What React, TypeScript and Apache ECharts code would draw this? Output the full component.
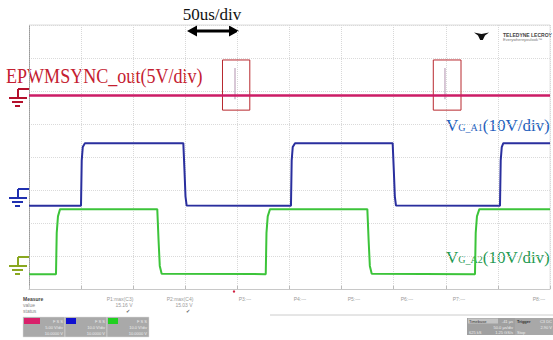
import React, { useEffect, useRef } from "react";
import * as echarts from "echarts";

// time in microseconds (50 us/div, 10 divisions); level in vertical divisions (8 divisions)
const timeRange = [0, 500];
const divRange = [0, 8];

// EPWMSYNC_out trace (pink)
const syncTrace: [number, number][] = [
  [0, 5.86], [197.7, 5.86], [399.2, 5.86], [500, 5.86],
];
// sync pulses (grey spikes)
const spikeTimes = [197.7, 399.2];
const spikeBottom = 5.75;
const spikeTop = 6.7;
// highlight boxes [t0, t1, yLow, yHigh]
const boxes: [number, number, number, number][] = [
  [185.7, 211.9, 5.42, 6.94],
  [388.0, 414.6, 5.42, 6.94],
];

// VG_A1 (blue)
const gateA1: [number, number][] = [
  [0, 2.52], [49.9, 2.52], [50.6, 3.9], [51.6, 4.3], [53.7, 4.42],
  [148.1, 4.42], [149.2, 3.6], [150.2, 2.8], [151.3, 2.53],
  [251.4, 2.52], [252.1, 3.9], [253.1, 4.3], [255.3, 4.42],
  [349.0, 4.42], [350.1, 3.6], [351.1, 2.8], [352.2, 2.53],
  [452.0, 2.52], [452.7, 3.9], [453.7, 4.3], [455.2, 4.42],
  [500, 4.42],
];

// VG_A2 (green)
const gateA2: [number, number][] = [
  [0, 0.45], [25.9, 0.45], [26.6, 1.7], [27.8, 2.2], [29.8, 2.42],
  [123.1, 2.42], [124.3, 1.5], [125.5, 0.7], [127.3, 0.46],
  [227.2, 0.45], [227.9, 1.7], [229.1, 2.2], [231.3, 2.42],
  [324.7, 2.42], [325.9, 1.5], [327.1, 0.7], [328.9, 0.46],
  [428.0, 0.45], [428.7, 1.7], [429.9, 2.2], [432.2, 2.42],
  [500, 2.42],
];

const measureLabels = ["P1:max(C3)", "P2:max(C4)", "P3:---", "P4:---", "P5:---", "P6:---", "P7:---", "P8:---"];
const measureValues = ["15.16 V", "15.03 V"];

const SERIF = "'Liberation Serif', 'DejaVu Serif', serif";
const SANS = "'Liberation Sans', Arial, sans-serif";

function groundMarker(x: number, y: number, color: string) {
  return {
    type: "group",
    silent: true,
    children: [
      { type: "line", shape: { x1: x, y1: y, x2: x + 12, y2: y }, style: { stroke: color, lineWidth: 2 } },
      { type: "line", shape: { x1: x, y1: y, x2: x, y2: y + 9 }, style: { stroke: color, lineWidth: 2 } },
      { type: "line", shape: { x1: x - 9, y1: y + 9, x2: x + 9, y2: y + 9 }, style: { stroke: color, lineWidth: 2 } },
      { type: "line", shape: { x1: x - 6, y1: y + 13, x2: x + 5, y2: y + 13 }, style: { stroke: color, lineWidth: 2 } },
      { type: "line", shape: { x1: x - 3, y1: y + 17, x2: x + 2, y2: y + 17 }, style: { stroke: color, lineWidth: 2 } },
    ],
  };
}

export default function App() {
  const ref = useRef<HTMLDivElement>(null);
  useEffect(() => {
    document.body.style.margin = "0";
    const chart = echarts.init(ref.current!, null, { renderer: "svg" });

    const spikeSeries = spikeTimes.map((t, i) => ({
      name: "spike" + i,
      type: "line",
      data: [[t, spikeBottom], [t, spikeTop]],
      symbol: "none",
      silent: true,
      z: 3,
      lineStyle: { color: "#cbb6c9", width: 1.5 },
    }));

    const measureGraphics: any[] = [];
    const mx = [120, 180, 245, 300, 354, 407, 459, 539];
    measureLabels.forEach((l, i) => {
      measureGraphics.push({
        type: "text", x: mx[i], y: 299, silent: true,
        style: { text: l, fill: "#9a9a9a", font: `5px ${SANS}`, align: "center", verticalAlign: "middle" },
      });
    });
    measureValues.forEach((v, i) => {
      measureGraphics.push({
        type: "text", x: mx[i] + 4, y: 305, silent: true,
        style: { text: v, fill: "#9a9a9a", font: `5px ${SANS}`, align: "center", verticalAlign: "middle" },
      });
      measureGraphics.push({
        type: "text", x: mx[i] + 8, y: 311, silent: true,
        style: { text: "✔", fill: "#666", font: `5px ${SANS}`, align: "center", verticalAlign: "middle" },
      });
    });

    const chBox = (x: number, tag: string, num: string, vdiv: string) => ({
      type: "group",
      silent: true,
      children: [
        { type: "rect", shape: { x, y: 317, width: 42, height: 20 }, style: { fill: "#a9a9a9", stroke: "#ddd", lineWidth: 0.5 } },
        { type: "rect", shape: { x: x + 1, y: 318, width: num === "C3" ? 16 : 10, height: 6 }, style: { fill: tag } },
        { type: "text", x: x + 40, y: 321, style: { text: "F S S", fill: "#eee", font: `4px ${SANS}`, align: "right", verticalAlign: "middle" } },
        { type: "text", x: x + 40, y: 327, style: { text: vdiv, fill: "#eee", font: `4px ${SANS}`, align: "right", verticalAlign: "middle" } },
        { type: "text", x: x + 40, y: 333, style: { text: "10.0000 V", fill: "#eee", font: `4px ${SANS}`, align: "right", verticalAlign: "middle" } },
      ],
    });

    chart.setOption({
      animation: false,
      backgroundColor: "#ffffff",
      grid: { left: 29, top: 25, width: 521, height: 264, show: false },
      xAxis: {
        type: "value",
        min: timeRange[0],
        max: timeRange[1],
        interval: 50,
        axisLabel: { show: false },
        axisTick: { show: true, inside: true, length: 3, lineStyle: { color: "#bbb" } },
        axisLine: { show: true, lineStyle: { color: "#c8c8c8", width: 1 } },
        splitLine: { show: true, lineStyle: { color: "#d8d8d8", type: "dotted", width: 1 } },
      },
      yAxis: {
        type: "value",
        min: divRange[0],
        max: divRange[1],
        interval: 1,
        axisLabel: { show: false },
        axisTick: { show: false },
        axisLine: { show: true, lineStyle: { color: "#9a9a9a", type: "dotted", width: 1 } },
        splitLine: { show: true, lineStyle: { color: "#dadada", type: "dotted", width: 1 } },
      },
      series: [
        {
          name: "EPWMSYNC_out",
          type: "line",
          data: syncTrace,
          symbol: "none",
          z: 4,
          lineStyle: { color: "#cc1c66", width: 2.5 },
          markArea: {
            silent: true,
            itemStyle: { color: "rgba(0,0,0,0)", borderColor: "#b8282e", borderWidth: 1 },
            data: boxes.map((b) => [{ coord: [b[0], b[2]] }, { coord: [b[1], b[3]] }]),
          },
        },
        ...spikeSeries,
        {
          name: "VG_A2",
          type: "line",
          data: gateA2,
          symbol: "none",
          z: 5,
          lineStyle: { color: "#3cc43a", width: 2 },
        },
        {
          name: "VG_A1",
          type: "line",
          data: gateA1,
          symbol: "none",
          z: 6,
          lineStyle: { color: "#2a2f9e", width: 2 },
        },
      ],
      graphic: [
        { type: "line", silent: true, shape: { x1: 29, y1: 25, x2: 550, y2: 25 }, style: { stroke: "#dcdcdc", lineWidth: 1 } },
        { type: "line", silent: true, shape: { x1: 550, y1: 25, x2: 550, y2: 289 }, style: { stroke: "#e4e4e4", lineWidth: 1 } },
        { type: "text", x: 212, y: 14, silent: true, style: { text: "50us/div", fill: "#111", font: `17px ${SERIF}`, align: "center", verticalAlign: "middle" } },
        { type: "line", silent: true, shape: { x1: 195, y1: 31, x2: 231, y2: 31 }, style: { stroke: "#000", lineWidth: 3 } },
        { type: "polygon", silent: true, shape: { points: [[187, 31], [197, 25.5], [197, 36.5]] }, style: { fill: "#000" } },
        { type: "polygon", silent: true, shape: { points: [[239, 31], [229, 25.5], [229, 36.5]] }, style: { fill: "#000" } },
        { type: "text", x: 6, y: 76, scaleX: 0.86, silent: true, style: { text: "EPWMSYNC_out(5V/div)", fill: "#c42030", font: `21px ${SERIF}`, align: "left", verticalAlign: "middle" } },
        {
          type: "text", x: 446, y: 134, silent: true,
          style: {
            text: "{v|V}{s|G_A1}{v|(10V/div)}",
            align: "left", verticalAlign: "bottom",
            rich: {
              v: { fontSize: 17, fontFamily: SERIF, fill: "#2461bd", verticalAlign: "bottom" },
              s: { fontSize: 10, fontFamily: SERIF, fill: "#2461bd", verticalAlign: "bottom", padding: [0, 0, 2, 0] },
            },
          },
        },
        {
          type: "text", x: 446, y: 266, silent: true,
          style: {
            text: "{v|V}{s|G_A2}{v|(10V/div)}",
            align: "left", verticalAlign: "bottom",
            rich: {
              v: { fontSize: 17, fontFamily: SERIF, fill: "#1f9a52", verticalAlign: "bottom" },
              s: { fontSize: 10, fontFamily: SERIF, fill: "#1f9a52", verticalAlign: "bottom", padding: [0, 0, 2, 0] },
            },
          },
        },
        groundMarker(18, 89, "#b4102c"),
        groundMarker(18, 189, "#2030b0"),
        groundMarker(18, 257, "#8aa820"),
        // logo
        { type: "polygon", silent: true, shape: { points: [[474, 32.5], [481.5, 34], [489, 32.5], [485, 35.5], [482.8, 40], [480.2, 40], [478, 35.5]] }, style: { fill: "#111" } },
        { type: "text", x: 503, y: 34.5, silent: true, style: { text: "TELEDYNE LECROY", fill: "#444", font: `bold 5px ${SANS}`, align: "left", verticalAlign: "middle" } },
        { type: "text", x: 503, y: 39.5, silent: true, style: { text: "Everywhereyoulook™", fill: "#777", font: `4px ${SANS}`, align: "left", verticalAlign: "middle" } },
        { type: "text", x: 23, y: 299, silent: true, style: { text: "Measure", fill: "#444", font: `bold 5px ${SANS}`, align: "left", verticalAlign: "middle" } },
        { type: "text", x: 23, y: 305, silent: true, style: { text: "value", fill: "#888", font: `5px ${SANS}`, align: "left", verticalAlign: "middle" } },
        { type: "text", x: 23, y: 311, silent: true, style: { text: "status", fill: "#888", font: `5px ${SANS}`, align: "left", verticalAlign: "middle" } },
        { type: "circle", silent: true, shape: { cx: 234, cy: 291.5, r: 1.2 }, style: { fill: "#d02040" } },
        ...measureGraphics,
        { type: "line", silent: true, shape: { x1: 270, y1: 315, x2: 553, y2: 315 }, style: { stroke: "#ccc", lineWidth: 1 } },
        chBox(23, "#d8206a", "C3", "5.00 V/div"),
        chBox(65, "#1010d0", "C4", "10.0 V/div"),
        chBox(107, "#20d020", "C2", "10.0 V/div"),
        { type: "rect", silent: true, shape: { x: 467, y: 318, width: 48, height: 17 }, style: { fill: "#a0a0a0" } },
        { type: "rect", silent: true, shape: { x: 515, y: 318, width: 38, height: 17 }, style: { fill: "#a8a8a8" } },
        { type: "rect", silent: true, shape: { x: 468, y: 318.5, width: 30, height: 5 }, style: { fill: "#c4c4c4" } },
        { type: "text", x: 469, y: 321, silent: true, style: { text: "Timebase", fill: "#333", font: `4px ${SANS}`, align: "left", verticalAlign: "middle" } },
        { type: "text", x: 513, y: 321, silent: true, style: { text: "-41 µs", fill: "#eee", font: `4px ${SANS}`, align: "right", verticalAlign: "middle" } },
        { type: "text", x: 513, y: 327, silent: true, style: { text: "50.0 µs/div", fill: "#eee", font: `4px ${SANS}`, align: "right", verticalAlign: "middle" } },
        { type: "text", x: 469, y: 332, silent: true, style: { text: "625 kS", fill: "#eee", font: `4px ${SANS}`, align: "left", verticalAlign: "middle" } },
        { type: "text", x: 513, y: 332, silent: true, style: { text: "1.25 GS/s", fill: "#eee", font: `4px ${SANS}`, align: "right", verticalAlign: "middle" } },
        { type: "text", x: 517, y: 321, silent: true, style: { text: "Trigger", fill: "#333", font: `bold 4px ${SANS}`, align: "left", verticalAlign: "middle" } },
        { type: "text", x: 552, y: 321, silent: true, style: { text: "C3 DC", fill: "#eee", font: `4px ${SANS}`, align: "right", verticalAlign: "middle" } },
        { type: "text", x: 552, y: 327, silent: true, style: { text: "2.90 V", fill: "#eee", font: `4px ${SANS}`, align: "right", verticalAlign: "middle" } },
        { type: "text", x: 517, y: 332, silent: true, style: { text: "Stop", fill: "#eee", font: `4px ${SANS}`, align: "left", verticalAlign: "middle" } },
      ],
    });
    return () => chart.dispose();
  }, []);
  return <div ref={ref} style={{ position: "absolute", left: 0, top: 0, width: 553, height: 340 }} />;
}
